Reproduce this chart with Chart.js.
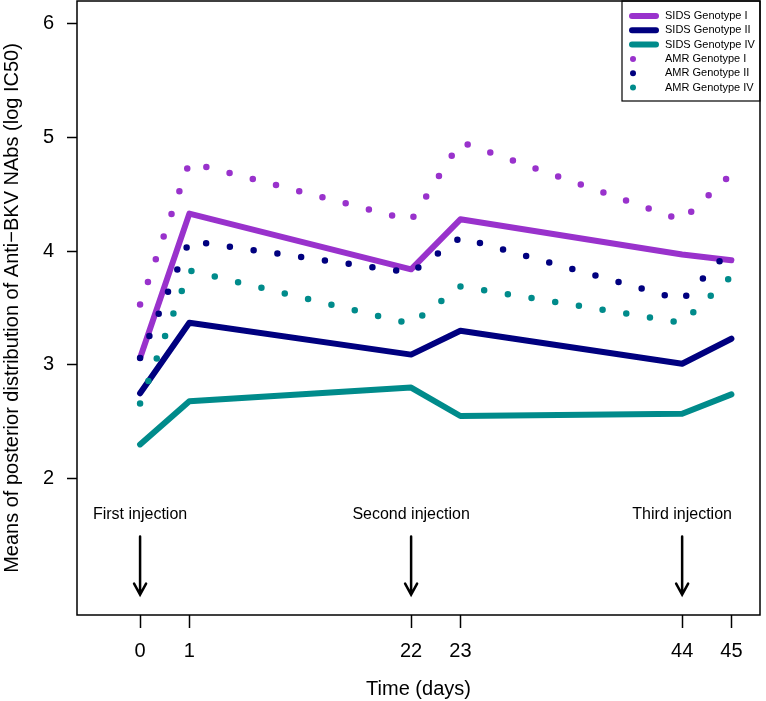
<!DOCTYPE html>
<html>
<head>
<meta charset="utf-8">
<script src="https://cdn.jsdelivr.net/npm/chart.js@4.4.1/dist/chart.umd.min.js"></script>
<style>
  html, body { margin: 0; padding: 0; background: #fff; }
  #wrap { width: 766px; height: 701px; }
</style>
</head>
<body>
<div id="wrap"><canvas id="chart" width="766" height="701"></canvas></div>
<script>
// sampling days (the axis is broken: each 21-day gap is squeezed)
const days = [0, 1, 22, 23, 44, 45];
const tickDays = [0, 1, 22, 23, 44, 45];

const sidsG1 = [3.06, 4.33, 3.84, 4.28, 3.97, 3.92];
const sidsG2 = [2.75, 3.37, 3.09, 3.30, 3.01, 3.23];
const sidsG4 = [2.30, 2.68, 2.80, 2.55, 2.57, 2.74];
const amrG1  = [3.53, 4.78, 4.27, 4.96, 4.27, 4.68];
const amrG2  = [3.06, 4.09, 3.81, 4.12, 3.57, 4.02];
const amrG4  = [2.66, 3.83, 3.36, 3.69, 3.37, 3.78];

const yTicks = [2, 3, 4, 5, 6];

const injectionDays   = [0, 22, 44];
const injectionLabels = ['First injection', 'Second injection', 'Third injection'];

const FONT = "'Liberation Sans', Arial, Helvetica, sans-serif";
const COLORS = { g1: '#9932CC', g2: '#00007F', g4: '#008B8B' };

// broken time axis: day 0->0, 1->1, 22->5.5, 23->6.5, 44->11, 45->12
function toAxis(d) {
  const period = Math.floor(d / 22);
  const r = d - period * 22;
  return period * 5.5 + (r <= 1 ? r : 1 + (r - 1) * 4.5 / 21);
}
const pts = vals => days.map((d, i) => ({ x: toAxis(d), y: vals[i] }));

function solid(label, vals, color) {
  return { label, data: pts(vals), borderColor: color, backgroundColor: color,
    borderWidth: 6, borderCapStyle: 'round', borderJoinStyle: 'round',
    pointRadius: 0, tension: 0, order: 1, kind: 'line' };
}
function dotted(label, vals, color) {
  return { label, data: pts(vals), borderColor: color, backgroundColor: color,
    borderWidth: 6.5, borderDash: [0, 24], borderCapStyle: 'round', borderJoinStyle: 'round',
    pointRadius: 0, tension: 0, order: 0, kind: 'dot' };
}

// frame + injection arrows + legend, all drawn from the scales
const decorations = {
  id: 'decorations',
  afterDatasetsDraw(chart) {
    const { ctx, chartArea: a, scales: { x, y } } = chart;
    ctx.save();

    // injection marks
    ctx.fillStyle = '#000';
    ctx.strokeStyle = '#000';
    ctx.font = `16px ${FONT}`;
    ctx.textAlign = 'center';
    ctx.textBaseline = 'middle';
    injectionDays.forEach((d, i) => {
      const px = x.getPixelForValue(toAxis(d));
      ctx.fillText(injectionLabels[i], px, y.getPixelForValue(1.68));
      const y0 = y.getPixelForValue(1.49), y1 = y.getPixelForValue(0.98);
      ctx.lineWidth = 2.5;
      ctx.lineCap = 'round';
      ctx.beginPath();
      ctx.moveTo(px, y0); ctx.lineTo(px, y1);
      ctx.moveTo(px - 6, y1 - 11); ctx.lineTo(px, y1); ctx.lineTo(px + 6, y1 - 11);
      ctx.stroke();
    });

    // legend
    const lw = 138, lh = 100;
    const lx = a.right - lw, ly = a.top;
    ctx.fillStyle = '#fff';
    ctx.fillRect(lx, ly, lw, lh);
    ctx.lineWidth = 1.2;
    ctx.strokeStyle = '#000';
    ctx.strokeRect(lx, ly, lw, lh);
    ctx.font = `11px ${FONT}`;
    ctx.textAlign = 'left';
    chart.data.datasets.forEach((ds, i) => {
      const ry = ly + 15 + i * 14.3;
      ctx.strokeStyle = ds.borderColor;
      ctx.fillStyle = ds.borderColor;
      if (ds.kind === 'line') {
        ctx.lineWidth = 6;
        ctx.lineCap = 'round';
        ctx.beginPath();
        ctx.moveTo(lx + 10, ry); ctx.lineTo(lx + 34, ry);
        ctx.stroke();
      } else {
        ctx.beginPath();
        ctx.arc(lx + 11, ry, 3, 0, Math.PI * 2);
        ctx.fill();
      }
      ctx.fillStyle = '#000';
      ctx.fillText(ds.label, lx + 43, ry);
    });

    // plot frame
    ctx.lineWidth = 1.5;
    ctx.strokeStyle = '#000';
    ctx.strokeRect(a.left, a.top, a.right - a.left, a.bottom - a.top);
    ctx.restore();
  }
};

new Chart(document.getElementById('chart'), {
  type: 'line',
  data: {
    datasets: [
      solid('SIDS Genotype I', sidsG1, COLORS.g1),
      solid('SIDS Genotype II', sidsG2, COLORS.g2),
      solid('SIDS Genotype IV', sidsG4, COLORS.g4),
      dotted('AMR Genotype I', amrG1, COLORS.g1),
      dotted('AMR Genotype II', amrG2, COLORS.g2),
      dotted('AMR Genotype IV', amrG4, COLORS.g4),
    ],
  },
  options: {
    responsive: false,
    animation: false,
    events: [],
    layout: { padding: { top: 1, right: 6, left: 0, bottom: 0 } },
    plugins: { legend: { display: false }, tooltip: { enabled: false } },
    scales: {
      x: {
        type: 'linear',
        min: -1.28, max: 12.58,
        afterBuildTicks: s => { s.ticks = tickDays.map(d => ({ value: toAxis(d) })); },
        afterFit: s => { s.height = 86; s.paddingLeft = 0; s.paddingRight = 0; },
        ticks: {
          color: '#000', font: { family: FONT, size: 20 }, padding: 11, maxRotation: 0,
          callback: v => String(tickDays[tickDays.findIndex(d => Math.abs(toAxis(d) - v) < 1e-6)]),
        },
        grid: { drawOnChartArea: false, color: '#000', tickLength: 13, tickWidth: 1.5 },
        border: { display: false },
        title: { display: true, text: 'Time (days)', color: '#000',
          font: { family: FONT, size: 20 }, padding: { top: 0, bottom: 0 } },
      },
      y: {
        type: 'linear',
        min: 0.8, max: 6.2,
        afterBuildTicks: s => { s.ticks = yTicks.map(v => ({ value: v })); },
        afterFit: s => { s.width = 77; s.paddingTop = 0; s.paddingBottom = 0; },
        ticks: { color: '#000', font: { family: FONT, size: 20 }, padding: 13 },
        grid: { drawOnChartArea: false, color: '#000', tickLength: 10, tickWidth: 1.5 },
        border: { display: false },
        title: { display: true, text: 'Means of posterior distribution of Anti\u2212BKV NAbs (log IC50)',
          color: '#000', font: { family: FONT, size: 20 }, padding: { top: 0, bottom: 0 } },
      },
    },
  },
  plugins: [decorations],
});
</script>
</body>
</html>
